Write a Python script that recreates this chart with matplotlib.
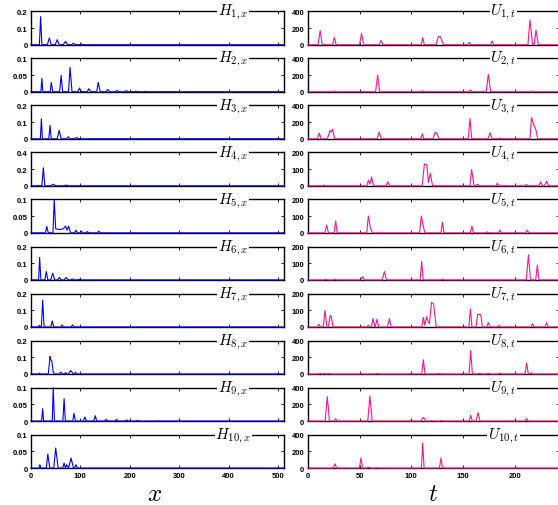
import matplotlib
matplotlib.use("Agg")
import matplotlib.pyplot as plt

plt.rcParams['font.family'] = ['Liberation Sans', 'DejaVu Sans']
plt.rcParams['font.weight'] = 'bold'
plt.rcParams['mathtext.fontset'] = 'cm'

# left column: H_{k,x}, vertices (x, value)
H1 = [(0, 0), (17, 0), (19.5, 0.168), (22, 0), (33, 0), (37, 0.04), (41, 0), (49, 0), (53, 0.03), (57, 0),
      (65, 0), (70, 0.02), (74, 0), (82, 0), (86, 0.008), (90, 0), (98, 0), (102, 0.004), (106, 0), (512, 0)]
H2 = [(0, 0), (20, 0), (22, 0.040), (24, 0), (39, 0), (41, 0.028), (44, 0), (58, 0), (61, 0.049), (64, 0),
      (76, 0), (79, 0.073), (83, 0), (95, 0), (98, 0.011), (102, 0), (114, 0), (117, 0.009), (121, 0),
      (133, 0), (136, 0.028), (140, 0), (152, 0), (155, 0.007), (159, 0), (171, 0), (174, 0.004), (178, 0),
      (190, 0), (193, 0.003), (197, 0), (209, 0), (212, 0.002), (216, 0), (228, 0), (231, 0.001), (235, 0), (512, 0)]
H3 = [(0, 0), (19, 0), (21, 0.12), (23, 0), (36, 0), (38.5, 0.08), (41, 0), (53, 0), (57, 0.05), (61, 0),
      (72, 0), (75.5, 0.012), (79, 0), (88, 0), (92, 0.008), (96, 0), (512, 0)]
H4 = [(0, 0), (12, 0), (15, 0.005), (18, 0), (22, 0), (25, 0.216), (28, 0), (40, 0), (45, 0.02), (50, 0),
      (67, 0), (71, 0.01), (75, 0), (512, 0)]
H5 = [(0, 0), (29, 0), (32, 0.019), (35, 0), (44.5, 0), (47, 0.1), (50, 0.012), (58, 0.01), (65, 0.012),
      (70, 0.02), (73, 0.008), (76, 0.02), (80, 0), (88, 0), (91, 0.008), (94, 0), (99, 0), (102, 0.005),
      (105, 0), (111, 0), (114, 0.004), (117, 0), (134, 0), (137, 0.005), (140, 0), (512, 0)]
H6 = [(0, 0), (15.5, 0), (17.5, 0.134), (20, 0), (28, 0), (31, 0.05), (34, 0), (40, 0), (44, 0.04), (48, 0),
      (54, 0), (57.5, 0.015), (61, 0), (67, 0), (71, 0.015), (75, 0), (80, 0), (84, 0.006), (88, 0),
      (94, 0), (98, 0.004), (102, 0), (512, 0)]
H7 = [(0, 0), (15, 0), (17, 0.01), (19, 0), (21, 0), (23.6, 0.16), (26.5, 0), (40, 0), (43, 0.036), (46, 0),
      (60, 0), (63, 0.012), (66, 0), (81, 0), (84, 0.012), (87, 0), (512, 0)]
H8 = [(0, 0), (15, 0), (17, 0.005), (19, 0), (35, 0), (38.5, 0.105), (40, 0.085), (42, 0.08), (45, 0.01),
      (48, 0), (57, 0), (60, 0.01), (64, 0), (67, 0), (70, 0.008), (73, 0), (76, 0), (80, 0.021), (86, 0),
      (88, 0), (90, 0.01), (93, 0), (512, 0)]
H9 = [(0, 0), (21.5, 0), (23.6, 0.037), (25.5, 0), (43, 0), (45, 0.1), (47.5, 0), (64.5, 0), (67, 0.067),
      (69.5, 0), (84.5, 0), (87, 0.023), (90, 0), (106, 0), (109, 0.012), (112, 0), (127, 0), (130, 0.016),
      (133, 0), (149, 0), (152, 0.005), (155, 0), (170, 0), (173, 0.005), (176, 0), (191, 0), (194, 0.003),
      (197, 0), (213, 0), (216, 0.002), (219, 0), (255, 0), (258, 0.001), (261, 0), (512, 0)]
H10 = [(0, 0), (16, 0), (18, 0.01), (20, 0), (31, 0), (34, 0.042), (38, 0), (46, 0), (50, 0.06), (55, 0),
       (64, 0), (67, 0.015), (69.5, 0), (72, 0.01), (76, 0), (81, 0.03), (86, 0), (88, 0), (91, 0.01),
       (94, 0), (512, 0)]

# right column: U_{k,t}, vertices (t, value)
U1 = [(0, 0), (10, 0), (12, 168), (14, 0), (24, 0), (25.7, 88), (27.5, 0), (50, 0), (52, 136), (54, 0),
      (69, 0), (70.7, 52), (72.5, 0), (109.5, 0), (111, 84), (112.5, 0), (124, 0), (126, 96), (128, 96),
      (131, 0), (154.5, 0), (156, 28), (157.5, 0), (176.5, 0), (178, 44), (179.5, 0), (212.5, 0),
      (214.5, 296), (217, 0), (218.5, 0), (220.3, 176), (222.5, 0), (250, 0)]
U2 = [(0, 0), (24.5, 0), (26, 10), (27.5, 0), (65.5, 0), (67.5, 198), (69.5, 0), (109.5, 0), (111, 12),
      (112.5, 0), (155.5, 0), (157, 20), (158.5, 0), (172.3, 0), (174.3, 210), (176.5, 0), (215.5, 0),
      (217, 8), (218.5, 0), (250, 0)]
U3 = [(0, 0), (9.5, 0), (11.2, 67), (13, 0), (19, 0), (21.5, 98), (22.7, 80), (24, 115), (26, 0), (67, 0),
      (69, 79), (71, 0), (109, 0), (110.6, 59), (112, 0), (121, 0), (122.9, 78), (125, 60), (126.5, 0),
      (155, 0), (156.6, 243), (158.3, 0), (174, 0), (176, 71), (178, 0), (184, 0), (185.5, 10), (187, 0),
      (214.5, 0), (216, 255), (218, 170), (220, 120), (222, 0), (250, 0)]
U4 = [(0, 0), (14.5, 0), (16, 5), (17.5, 0), (57, 0), (58.5, 33), (60, 10), (61.7, 53), (63.5, 0), (75.5, 0),
      (77.2, 24), (79, 0), (110.5, 0), (112.6, 131), (115, 125), (116.5, 20), (118.3, 75), (120.5, 0),
      (156.5, 0), (158.2, 98), (160.5, 0), (162, 0), (163.7, 10), (165.5, 0), (181.5, 0), (183, 16),
      (184.5, 0), (209.5, 0), (211, 8), (212.5, 0), (223, 0), (224.8, 24), (226.5, 0), (228.5, 0),
      (230.6, 27), (232.5, 0), (250, 0)]
U5 = [(0, 0), (16.5, 0), (18.3, 46), (20, 0), (25.5, 0), (27, 71), (28.5, 0), (57, 0), (58.5, 101),
      (60.5, 30), (62.5, 0), (108, 0), (109.6, 101), (111.6, 40), (113, 0), (128.5, 0), (130, 63),
      (131.5, 0), (157, 0), (158.5, 40), (160, 0), (171.8, 0), (173.3, 6), (174.8, 0), (184, 0),
      (185.5, 16), (187, 0), (210.4, 0), (211.9, 16), (213.4, 0), (250, 0)]
U6 = [(0, 0), (15.8, 0), (17.3, 4), (18.8, 0), (24.9, 0), (26.4, 5), (27.9, 0), (51.5, 0), (53, 20),
      (54.5, 0), (72, 0), (74, 50), (76, 0), (108.5, 0), (110, 110), (111.5, 0), (128.5, 0), (130, 6),
      (131.5, 0), (211, 0), (213, 150), (215, 0), (220, 0), (221.6, 88), (223.2, 0), (250, 0)]
U7 = [(0, 0), (9.5, 0), (10.9, 16), (12.3, 0), (15, 0), (16.7, 99), (18.5, 0), (20, 0), (21.5, 65),
      (22.5, 67), (24.5, 0), (57, 0), (58.5, 10), (60, 0), (61.5, 0), (63, 50), (64.8, 0), (65.2, 0),
      (66.8, 46), (68.5, 0), (77, 0), (78.8, 50), (80.5, 0), (110, 0), (111.6, 57), (113, 10), (114.8, 61),
      (116, 35), (117.5, 20), (119.5, 147), (121.5, 138), (124, 0), (155.5, 0), (157, 107), (158.5, 0),
      (162.5, 0), (164, 75), (167, 75), (168.5, 0), (172.8, 0), (174.3, 26), (175.8, 0), (183.1, 0),
      (184.6, 10), (186.1, 0), (215.5, 0), (217, 20), (218.5, 0), (229, 0), (230.6, 26), (232, 0), (250, 0)]
U8 = [(0, 0), (10.4, 0), (11.9, 10), (13.4, 0), (14.5, 0), (16, 6), (17.5, 0), (18.5, 0), (20, 6),
      (21.5, 0), (65.7, 0), (67.2, 8), (68.7, 0), (110, 0), (111.6, 170), (113.2, 0), (125.5, 0), (127, 6),
      (128.5, 0), (155.7, 0), (157.3, 281), (158.9, 0), (164.1, 0), (165.6, 10), (167.1, 0), (172.8, 0),
      (174.3, 8), (175.8, 0), (184, 0), (185.5, 12), (187, 0), (209.7, 0), (211.3, 131), (212.9, 0),
      (214, 0), (215.4, 15), (216.8, 0), (250, 0)]
U9 = [(0, 0), (16.8, 0), (18.9, 292), (21, 0), (25.5, 0), (27, 28), (28.5, 0), (58, 0), (60, 300),
      (62.2, 0), (109.5, 0), (111, 40), (112.3, 35), (113.8, 0), (118.1, 0), (119.6, 5), (121.1, 0),
      (127.5, 0), (129, 6), (130.5, 0), (155.8, 0), (157.3, 68), (158.8, 0), (162.6, 0), (164.4, 100),
      (166.2, 0), (209.8, 0), (211.3, 28), (212.8, 0), (250, 0)]
U10 = [(0, 0), (24.9, 0), (26.4, 52), (27.9, 0), (49.9, 0), (51.4, 120), (52.9, 0), (57.3, 0), (58.8, 12),
       (60.3, 0), (65, 0), (66.5, 3), (68, 0), (109.7, 0), (111, 300), (112.3, 0), (127.1, 0), (128.6, 120),
       (130.1, 0), (250, 0)]

H_series = [H1, H2, H3, H4, H5, H6, H7, H8, H9, H10]
U_series = [U1, U2, U3, U4, U5, U6, U7, U8, U9, U10]

H_ticks = [[0, 0.1, 0.2], [0, 0.05, 0.1], [0, 0.1, 0.2], [0, 0.2, 0.4], [0, 0.05, 0.1],
           [0, 0.1, 0.2], [0, 0.1, 0.2], [0, 0.1, 0.2], [0, 0.05, 0.1], [0, 0.05, 0.1]]
U_ticks = [[0, 200, 400], [0, 200, 400], [0, 200, 400], [0, 100, 200], [0, 100, 200],
           [0, 100, 200], [0, 100, 200], [0, 200, 400], [0, 200, 400], [0, 200, 400]]
x_ticks = [0, 100, 200, 300, 400, 500]
t_ticks = [0, 50, 100, 150, 200]

W, Hpx = 558, 506
fig = plt.figure(figsize=(W / 100, Hpx / 100), dpi=100)


def fmt(v):
    return ('%g' % v)


def panel(rect, pts, yt, xt, xmax, color, label, lx, show_x):
    ax = fig.add_axes(rect)
    xs = [p[0] for p in pts]
    ys = [p[1] for p in pts]
    ax.plot(xs, ys, color=color, lw=0.8, zorder=3, clip_on=False)
    ax.set_xlim(0, xmax)
    ax.set_ylim(yt[0], yt[-1])
    ax.set_yticks(yt)
    ax.set_yticklabels([fmt(v) for v in yt])
    ax.set_xticks(xt)
    if show_x:
        ax.set_xticklabels([fmt(v) for v in xt])
    else:
        ax.set_xticklabels([])
    ax.tick_params(direction='in', length=2.5, width=0.6, top=True, right=True,
                   labelsize=5.5, pad=2.5)
    for s in ax.spines.values():
        s.set_linewidth(1.0)
    ax.text(lx, 0.9, label, transform=ax.transAxes, ha='center', va='baseline',
            fontsize=11, zorder=6,
            bbox=dict(fc='white', ec='none', pad=0.6))
    return ax


for i in range(10):
    top = 12.3 + 47.04 * i
    h = 33.4
    bottom = 1 - (top + h) / Hpx
    last = i == 9
    panel([31 / W, bottom, 253 / W, h / Hpx], H_series[i], H_ticks[i], x_ticks, 512,
          '#0000ff', r'$H_{%d,x}$' % (i + 1), 0.8, last)
    panel([307.7 / W, bottom, 251.1 / W, h / Hpx], U_series[i], U_ticks[i], t_ticks, 242.3,
          '#ff1493', r'$U_{%d,t}$' % (i + 1), 0.78, last)

fig.text(155 / W, 1 - 494 / Hpx, r'$x$', fontsize=18, ha='center', va='center')
fig.text(433 / W, 1 - 494 / Hpx, r'$t$', fontsize=18, ha='center', va='center')

fig.savefig('out.png', dpi=100)
